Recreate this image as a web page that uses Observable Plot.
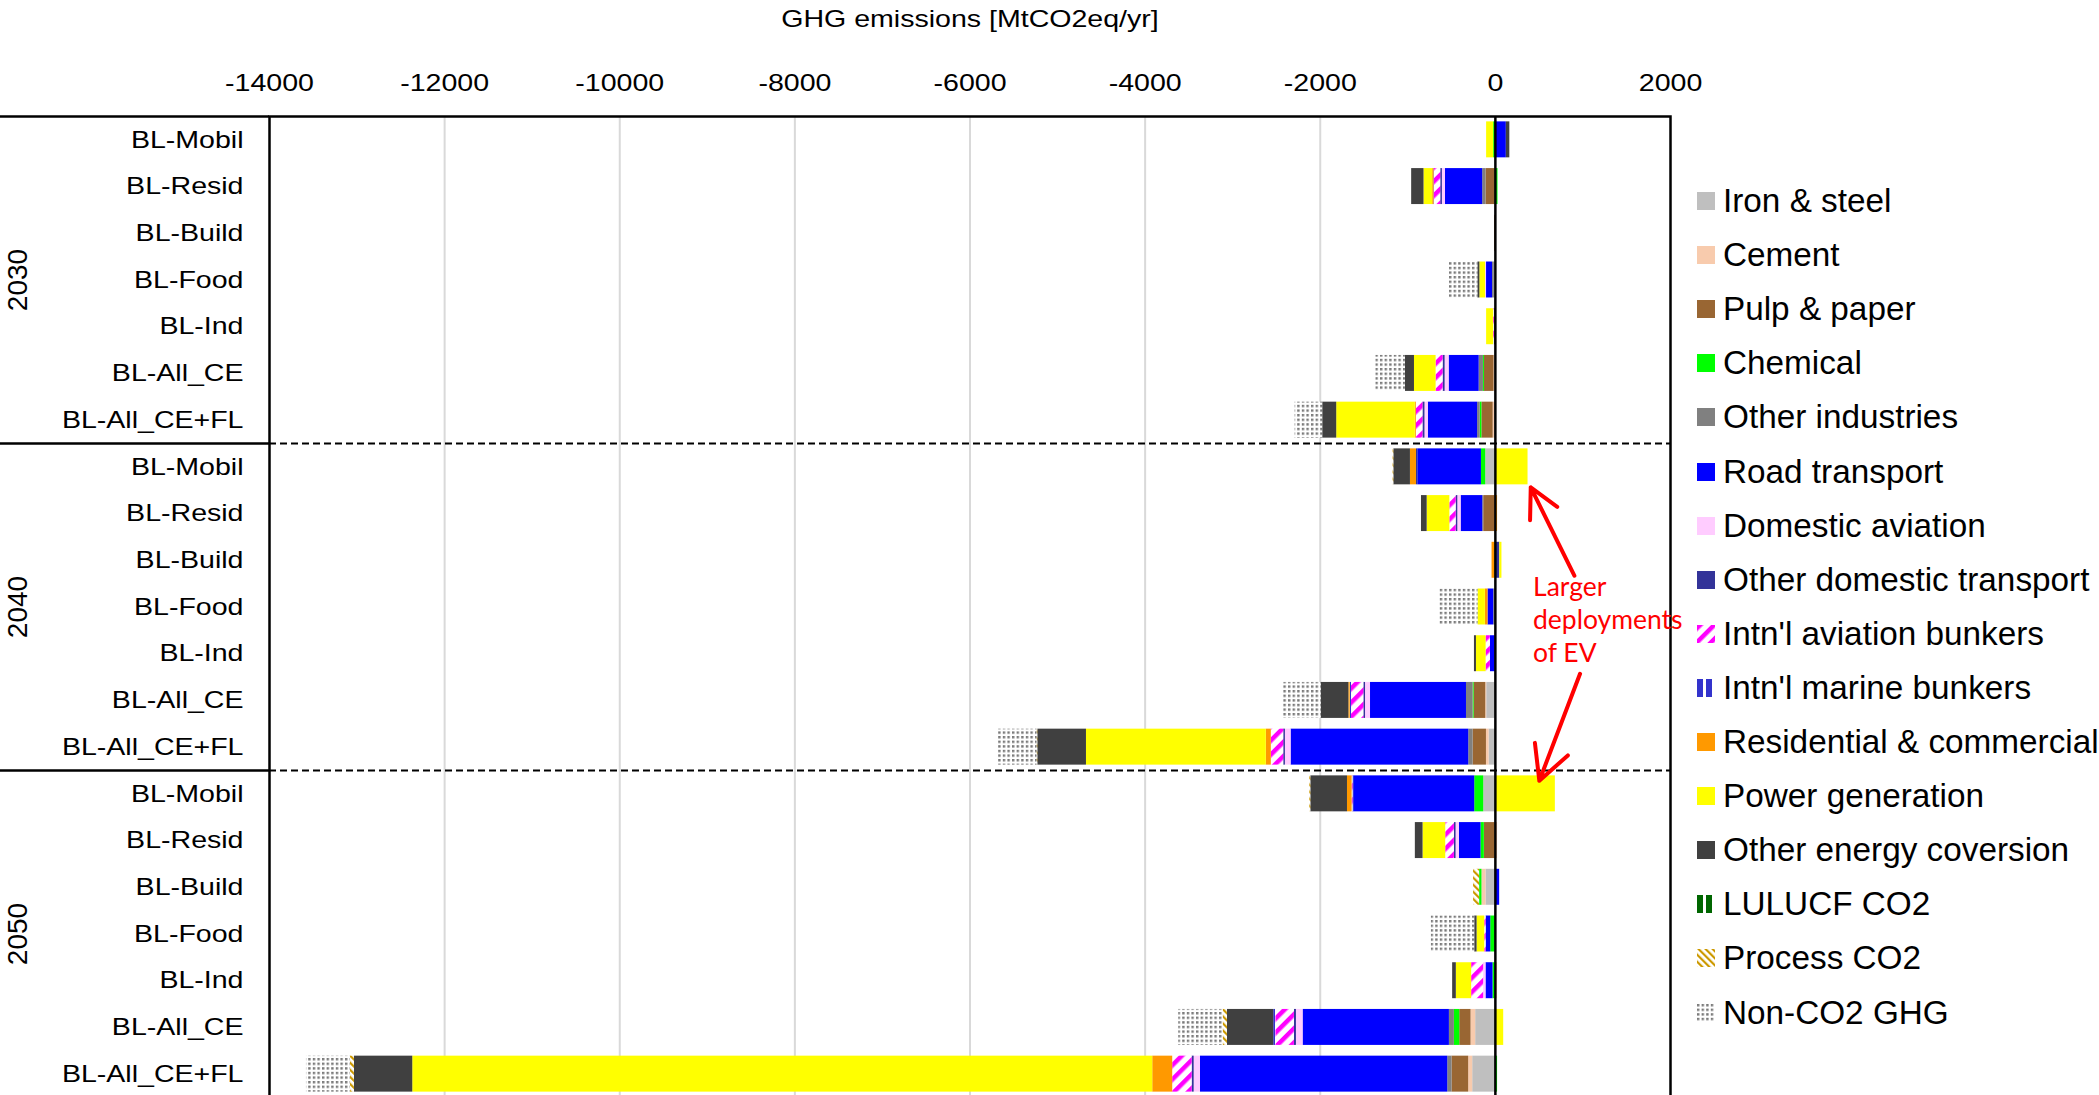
<!DOCTYPE html>
<html>
<head>
<meta charset="utf-8">
<script src="https://cdn.jsdelivr.net/npm/d3@7"></script>
<script src="https://cdn.jsdelivr.net/npm/@observablehq/plot@0.6"></script>
<style>
  html, body { margin: 0; padding: 0; background: #fff; overflow: hidden; }
  #wrap { position: relative; width: 2099px; height: 1095px; overflow: hidden; }
  #chart svg { display: block; }
  #legend { position: absolute; left: 1697px; top: 0; font-family: "Liberation Sans", Arial, sans-serif; font-size: 33.3px; color: #000; white-space: nowrap; }
  #legend .item { position: absolute; left: 0; height: 40px; display: flex; align-items: center; }
  #legend .item svg { margin-right: 8px; flex: none; }
</style>
</head>
<body>
<svg width="0" height="0" style="position:absolute">
  <defs>
    <pattern id="p-intlav" patternUnits="userSpaceOnUse" width="10" height="10" patternTransform="rotate(45)">
      <rect width="10" height="10" fill="#fff"/><rect width="4.5" height="10" fill="#FF00FF"/>
    </pattern>
    <pattern id="p-marine" patternUnits="userSpaceOnUse" width="9" height="9">
      <rect width="9" height="9" fill="#fff"/><rect width="6" height="9" fill="#3333CC"/>
    </pattern>
    <pattern id="p-lulucf" patternUnits="userSpaceOnUse" width="9" height="9">
      <rect width="9" height="9" fill="#fff"/><rect width="6" height="9" fill="#006600"/>
    </pattern>
    <pattern id="p-process" patternUnits="userSpaceOnUse" width="5" height="5" patternTransform="rotate(-45)">
      <rect width="5" height="5" fill="#fff"/><rect width="2.2" height="5" fill="#CC9900"/>
    </pattern>
    <pattern id="p-nonco2" patternUnits="userSpaceOnUse" width="4.6" height="4.6">
      <rect width="4.6" height="4.6" fill="#fff"/><rect width="2.4" height="2.4" fill="#7a7a7a"/>
    </pattern>
  </defs>
</svg>
<div id="wrap">
  <div id="chart"></div>
  <div id="legend"></div>
</div>
<script>
// Scenario rows, grouped by year (top to bottom)
const scenarios = ["BL-Mobil", "BL-Resid", "BL-Build", "BL-Food", "BL-Ind", "BL-All_CE", "BL-All_CE+FL"];
const years = ["2030", "2040", "2050"];
const xTicks = [-14000, -12000, -10000, -8000, -6000, -4000, -2000, 0, 2000];
const title = "GHG emissions [MtCO2eq/yr]";

const sectors = [
  "Iron & steel", "Cement", "Pulp & paper", "Chemical", "Other industries",
  "Road transport", "Domestic aviation", "Other domestic transport",
  "Intn'l aviation bunkers", "Intn'l marine bunkers", "Residential & commercial",
  "Power generation", "Other energy coversion", "LULUCF CO2", "Process CO2", "Non-CO2 GHG"
];

// GHG change per sector [MtCO2eq/yr]; 21 values each:
// 2030 (7 scenarios), 2040 (7 scenarios), 2050 (7 scenarios)
const ironSteel     = [0, 0, 0, -12, 0, -8, -10,     -110, 0, 0, 0, 0, -99, -72,      -133, 0, -107, 0, 0, -225, -259];
const cement        = [0, 0, 0, 0, 0, -7, -15,       0, 10, 0, 0, 0, -11, -30,        0, 25, -46, 0, 25, -53, -46];
const pulpPaper     = [0, -107, -10, 0, 0, -110, -129, 0, -133, 0, 0, 0, -133, -152,  0, -126, 0, 0, 0, -129, -190];
const chemical      = [-20, 30, 0, 0, 0, -11, -19,   -49, 0, 0, 0, 0, -11, 0,         -103, -38, -27, -53, -27, -61, 25];
const otherInd      = [0, -38, 0, -20, 0, -49, -30,  0, -11, 0, -19, 0, -76, -50,     0, 0, 0, 0, 0, -57, -49];
const road          = [125, -426, 0, -69, 0, -343, -563, -727, -247, 0, -65, -57, -1096, -2029, -1382, -247, 49, -53, -80, -1671, -2824];
const domAviation   = [0, -34, 0, -11, 0, -46, -38,  0, -38, 0, 0, 0, -57, -65,       0, -38, 0, 0, -27, -76, -72];
const otherDomestic = [0, -19, 0, 0, -12, -23, -23,  -15, -19, 50, 0, 0, -19, -19,    -8, -19, 0, 0, 0, -23, -23];
const intlAviation  = [0, -72, 0, 0, -8, -80, -76,   0, -72, 0, 0, -49, -141, -142,   -10, -99, 0, -15, -137, -213, -222];
const intlMarine    = [0, -5, 0, 0, 0, 0, 0,         0, 0, 0, 0, 0, -15, 0,           0, 0, 0, 0, 0, -23, 0];
const resComm       = [0, -15, 0, 0, 0, 0, -11,      -69, 15, -38, -30, 0, -15, -57,  -53, 0, 0, 0, 0, 0, -228];
const power         = [-80, -99, 0, -65, -80, -247, -898, 373, -259, 25, -84, -110, 0, -2054, 685, -259, 0, -88, -175, 95, -8451];
const otherEnergy   = [40, -141, 0, -23, 0, -103, -160, -190, -65, 0, 0, -23, -316, -556, -419, -88, 0, -27, -42, -529, -666];
const lulucf        = [0, 0, 0, 0, 0, 0, 0,          0, 0, 0, 0, 0, 0, 0,             0, 0, 0, 0, 0, 0, 0];
const processCO2    = [0, 0, 0, 0, 0, 0, 0,          -8, 0, 0, 0, 0, 0, -8,           -11, 0, -69, 0, 0, -49, -45];
const nonCO2        = [0, 0, 0, -335, 0, -339, -316, 0, 0, 0, -445, 0, -442, -446,    0, 0, 0, -495, 0, -507, -503];

const series = [ironSteel, cement, pulpPaper, chemical, otherInd, road, domAviation, otherDomestic,
                intlAviation, intlMarine, resComm, power, otherEnergy, lulucf, processCO2, nonCO2];

// Fill per sector (solid colours and hatch patterns)
const sectorFill = [
  "#BFBFBF", "#F8CBAD", "#996633", "#00FF00", "#808080",
  "#0000FF", "#FFCCFF", "#333399",
  "url(#p-intlav)", "url(#p-marine)", "#FF9900",
  "#FFFF00", "#404040", "url(#p-lulucf)", "url(#p-process)", "url(#p-nonco2)"
];

// Annotation: arrows from the note to the two BL-Mobil bars (x in MtCO2eq/yr, y in row units)
const noteArrows = [
  {x1: 902, y1: 9.33, x2: 404, y2: 7.44},
  {x1: 967, y1: 11.43, x2: 502, y2: 13.72}
];
const noteText = [{x: 430, y: 10.24, text: "Larger\ndeployments\nof EV"}];

// Build rows and stacked segments
const rows = years.flatMap(year => scenarios.map(scen => ({year, scen})));
const segments = [];
rows.forEach((r, i) => {
  series.forEach((vals, s) => {
    if (vals[i] !== 0) segments.push({row: i, s, sector: sectors[s], value: vals[i]});
  });
});

const half = 0.385; // half bar thickness, in row units
const groupSize = scenarios.length;
const separators = years.slice(1).map((_, k) => (k + 1) * groupSize - 0.5);

const chart = Plot.plot({
  width: 2099,
  height: 1097,
  marginLeft: 269,
  marginRight: 429,
  marginTop: 116,
  marginBottom: 0,
  style: {fontFamily: "'Liberation Sans', Arial, sans-serif", background: "white", overflow: "visible"},
  x: {domain: [-14000, 2000], axis: null},
  y: {domain: [-0.5, rows.length - 0.5], reverse: true, axis: null},
  color: {type: "identity"},
  marks: [
    Plot.ruleX(xTicks.filter(t => t !== 0 && t !== -14000 && t !== 2000), {stroke: "#d9d9d9", strokeWidth: 2}),
    Plot.rectX(segments, {
      x: "value",
      y1: d => d.row - half,
      y2: d => d.row + half,
      fill: d => sectorFill[d.s]
    }),
    Plot.ruleY(separators, {stroke: "black", strokeWidth: 2, strokeDasharray: "7,4"}),
    Plot.ruleY([-0.5, ...separators], {stroke: "black", strokeWidth: 2.5, insetLeft: -269, insetRight: 1401}),
    Plot.ruleX([0], {stroke: "black", strokeWidth: 2.5}),
    Plot.frame({stroke: "black", strokeWidth: 2.5}),
    Plot.text(xTicks, {x: d => d, text: d => String(d), frameAnchor: "top", dy: -33, fontSize: 24, lineAnchor: "middle"}),
    Plot.text([title], {text: d => d, frameAnchor: "top", dy: -97, fontSize: 24, lineAnchor: "middle"}),
    Plot.text(rows, {y: (d, i) => i, text: "scen", frameAnchor: "left", dx: -26, textAnchor: "end", fontSize: 24, lineAnchor: "middle"}),
    Plot.text(years, {y: (d, i) => i * groupSize + (groupSize - 1) / 2, text: d => d, frameAnchor: "left", dx: -251,
      rotate: -90, textAnchor: "middle", lineAnchor: "middle", fontSize: 28}),
    Plot.arrow(noteArrows, {x1: "x1", y1: "y1", x2: "x2", y2: "y2", stroke: "#FF0000", strokeWidth: 4,
      headLength: 18, headAngle: 55, strokeLinejoin: "miter"}),
    Plot.text(noteText, {x: "x", y: "y", text: "text", textAnchor: "start", lineAnchor: "middle",
      fill: "#FF0000", fontFamily: "Lato, 'Open Sans', sans-serif", fontSize: 26.5, lineHeight: 1.26})
  ]
});
document.getElementById("chart").appendChild(chart);

// The horizontal labels are set slightly wide, like the original chart's typeface
d3.select(chart).selectAll("g[font-size='24'] text").each(function() {
  const t = this.getAttribute("transform");
  if (t) {
    this.setAttribute("transform", t + " scale(1.19,1)");
  } else {
    const x = +this.getAttribute("x") || 0, y = +this.getAttribute("y") || 0;
    this.removeAttribute("x"); this.removeAttribute("y");
    this.setAttribute("transform", `translate(${x},${y}) scale(1.19,1)`);
  }
});

// Legend
const legend = d3.select("#legend");
sectors.forEach((name, k) => {
  const item = legend.append("div").attr("class", "item").style("top", (201 + k * 54.1 - 20) + "px");
  const sw = item.append("svg").attr("width", 18).attr("height", 18);
  sw.append("rect").attr("width", 18).attr("height", 18).attr("fill", sectorFill[k]);
  item.append("span").text(name);
});
</script>
</body>
</html>
